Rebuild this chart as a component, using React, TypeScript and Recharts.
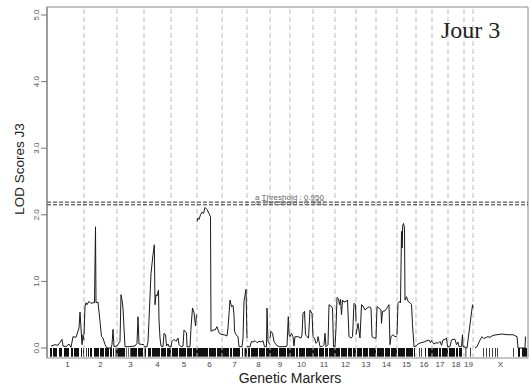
import { LineChart, Line, XAxis, YAxis, ReferenceLine, ReferenceArea } from 'recharts';

// positions are in map units along the genome (0 = left edge of the plot)
const chrNames = ['1', '2', '3', '4', '5', '6', '7', '8', '9', '10', '11', '12', '13', '14', '15', '16', '17', '18', '19', 'X'];
const chrStart = 4;
const chrLengths = [33, 33, 27, 27, 26, 25, 25, 23, 20, 23, 22, 21, 20, 21, 19, 16, 16, 16, 9, 55];

const chr1 = [[4, 0.03], [8, 0.05], [11, 0.04], [15, 0.13], [16, 0.03], [19, 0.02], [22, 0.06], [24, 0.01], [26, 0.17], [29, 0.16], [32, 0.3], [33, 0.54], [34, 0.3], [35, 0.05], [36, 0.2], [37, 0.12]];
const chr2 = [[37, 0.2], [38, 0.62], [39, 0.68], [40, 0.65], [42, 0.7], [44, 0.67], [46, 0.68], [47.5, 0.68], [48.5, 1.82], [49, 0.68], [51, 0.69], [53, 0.4], [54.5, 0.17], [56, 0.15], [58, 0.05], [60, 0.0], [64, 0.0], [65, 0.05], [66, 0.28], [67, 0.02], [70, 0.03]];
const chr3 = [[70, 0.03], [73, 0.1], [74, 0.8], [75, 0.72], [76, 0.6], [77, 0.3], [78, 0.02], [82, 0.02], [88, 0.03], [90, 0.07], [91, 0.47], [92, 0.06], [97, 0.05]];
const chr4 = [[97, 0.02], [100, 0.02], [101, 0.1], [102, 0.42], [104, 1.12], [106, 1.4], [107.3, 1.55], [108, 0.65], [109, 0.8], [110, 0.78], [111.5, 0.87], [112, 0.42], [113, 0.15], [114, 0.03], [116, 0.02], [117, 0.22], [118.5, 0.2], [119.5, 0.03], [121, 0.06], [122, 0.02], [124, 0.02]];
const chr5 = [[124, 0.02], [125, 0.1], [127, 0.13], [129, 0.1], [131, 0.15], [132, 0.05], [134, 0.02], [136, 0.03], [137, 0.27], [138, 0.25], [139.5, 0.23], [140, 0.02], [143, 0.02], [144, 0.3], [145.5, 0.6], [147, 0.53], [148.5, 0.33], [149.5, 0.5]];
const chr6 = [[150, 1.9], [151, 1.95], [152, 1.93], [153.5, 2.0], [155, 2.04], [156.5, 2.02], [158, 2.11], [160, 2.08], [162, 2.02], [163.5, 1.97], [164, 0.25], [166, 0.27], [168, 0.27], [170, 0.32], [171, 0.27], [172.5, 0.22], [175, 0.2]];
const chr7 = [[175, 0.2], [177, 0.2], [180, 0.18], [181, 0.3], [183, 0.72], [184.5, 0.62], [186, 0.64], [187, 0.5], [187.5, 0.25], [189, 0.2], [191, 0.17], [192, 0.02], [195, 0.02], [196, 0.15], [197, 0.7], [199, 0.88], [200, 0.15]];
const chr8 = [[200, 0.02], [203, 0.02], [204.5, 0.1], [206, 0.09], [208, 0.11], [210, 0.08], [212, 0.1], [214, 0.09], [216, 0.11], [217.5, 0.02], [219.5, 0.02], [220, 0.6], [221, 0.1], [223, 0.05]];
const chr9 = [[223, 0.15], [224, 0.25], [225.5, 0.22], [227, 0.1], [229, 0.05], [232, 0.02], [238, 0.02], [240, 0.03], [241.3, 0.47], [242, 0.2], [243, 0.17]];
const chr10 = [[243, 0.17], [244.5, 0.22], [246, 0.17], [247, 0.03], [248, 0.17], [251, 0.17], [254, 0.15], [255, 0.2], [256, 0.52], [257.5, 0.55], [258.5, 0.2], [260, 0.17], [261.5, 0.15], [263, 0.57], [265, 0.52], [266, 0.17]];
const chr11 = [[266, 0.17], [267.5, 0.15], [269, 0.07], [270.5, 0.1], [271, 0.17], [272, 0.1], [273, 0.02], [275, 0.02], [277, 0.05], [278, 0.22], [279, 0.02], [281, 0.05], [282, 0.65], [284, 0.63], [285.5, 0.6], [286.5, 0.02], [288, 0.02]];
const chr12 = [[288, 0.02], [289, 0.3], [290, 0.76], [291.5, 0.74], [292.5, 0.65], [293.5, 0.73], [294.5, 0.5], [295.5, 0.72], [297, 0.69], [299, 0.7], [300.5, 0.72], [302, 0.17], [304, 0.15], [305.5, 0.17], [307, 0.67], [308.5, 0.65], [309, 0.4]];
const chr13 = [[309, 0.2], [311, 0.37], [313, 0.15], [314.5, 0.65], [316, 0.63], [318, 0.57], [320, 0.6], [322, 0.62], [324, 0.6], [325, 0.17], [327, 0.15], [329, 0.15]];
const chr14 = [[329, 0.15], [330, 0.62], [332, 0.6], [334, 0.57], [334.5, 0.37], [335.5, 0.55], [338, 0.56], [340, 0.6], [342, 0.65], [343, 0.05], [344, 0.17], [346, 0.2], [348, 0.17], [350, 0.18]];
const chr15 = [[350, 0.2], [351, 0.67], [352.5, 0.7], [353.5, 0.68], [354.5, 1.75], [355.2, 1.5], [355.7, 1.84], [356.5, 1.87], [357.5, 1.8], [358, 0.72], [359.5, 0.77], [361, 0.7], [363, 0.68], [364.5, 0.65], [365.5, 0.35], [367, 0.02], [369, 0.03]];
const chr16 = [[369, 0.03], [371, 0.06], [374, 0.08], [377, 0.09], [380, 0.11], [382, 0.12], [383.5, 0.08], [385, 0.12]];
const chr17 = [[385, 0.1], [387, 0.06], [389, 0.08], [391, 0.07], [393, 0.1], [394.5, 0.04], [396, 0.12], [398, 0.13], [399.5, 0.15], [400.5, 0.02], [401, 0.02]];
const chr18 = [[401, 0.02], [403, 0.02], [404.5, 0.12], [406, 0.13], [408, 0.13], [409.5, 0.05], [411, 0.09], [412, 0.02], [414.5, 0.02], [415.5, 0.2], [416, 0.02], [417, 0.02]];
const chr19 = [[417, 0.02], [420, 0.0], [425.5, 0.65], [426, 0.6]];
const chrX = [[428, 0.0], [430, 0.02], [433, 0.12], [435, 0.17], [437, 0.14], [439, 0.16], [441, 0.17], [443, 0.16], [446, 0.19], [450, 0.2], [455, 0.21], [460, 0.2], [466, 0.2], [470, 0.17], [471, 0.0], [478, 0.0], [478.5, 0.17]];

// marker rug: [from, to] runs of genotyped markers
const markerRuns = [
  [3, 5], [6, 10], [12, 15], [17, 22], [24, 26], [27, 32], [34, 35], [36, 37],
  [39, 39.8], [41, 42], [43, 45], [47, 52], [53, 57], [58, 62], [63, 65], [66, 67], [68.5, 70],
  [70, 78], [79, 79.7], [81, 81.7], [83, 83.7], [84, 90], [91, 96],
  [97.5, 99], [101, 104], [105, 113], [114, 119], [120, 124],
  [125, 131], [132, 139], [140, 145], [146, 150],
  [150, 161], [162, 169], [170, 175],
  [175, 182], [183, 185], [186, 193], [195, 196], [197.5, 200],
  [201, 203], [204, 211], [212, 218], [219, 223],
  [223, 231], [232, 239], [240, 243],
  [243, 248], [249, 251], [252, 258], [259, 266],
  [266, 271], [272, 277], [278, 281], [282, 288],
  [288, 293], [294, 300], [301, 305], [306, 309],
  [310, 315], [316, 321], [322, 329],
  [330, 337], [338, 343], [344, 350],
  [351, 358], [359, 366], [367, 368],
  [372, 372.8], [374, 374.8], [378, 379], [381, 385],
  [385, 391], [392, 394], [395, 401],
  [402, 408], [409, 411], [412, 415],
  [418.5, 419.3], [423, 423.8],
  [436, 436.8], [439, 439.8], [442, 442.8], [445, 445.8], [448, 448.8], [450, 450.8],
  [466, 466.8], [471, 473], [475, 480],
];

const thresholds = [
  { lod: 2.19, label: 'a Threshold : 0.950' },
  { lod: 2.15, label: 'a Threshold : 0.900' },
];

const profiles = [chr1, chr2, chr3, chr4, chr5, chr6, chr7, chr8, chr9, chr10, chr11, chr12, chr13, chr14, chr15, chr16, chr17, chr18, chr19, chrX];

// one series, broken between chromosomes
const data = profiles.flatMap((c) => [
  ...c.map(([pos, lod]) => ({ pos, lod })),
  { pos: c[c.length - 1][0], lod: null as number | null },
]);

const chrEnds: number[] = [];
chrLengths.reduce((acc, len) => {
  chrEnds.push(acc + len);
  return acc + len;
}, chrStart);
const chrMids = chrEnds.map((end, i) => end - chrLengths[i] / 2);
const boundaries = chrEnds.slice(0, -1);

const X_MAX = 481;
const Y_MIN = -0.15;
const Y_MAX = 5.12;

function YTick({ x, y, payload }: any) {
  return (
    <text x={x} y={y} transform={`rotate(-90 ${x} ${y})`} textAnchor="middle" fontSize={8} fill="#555">
      {Number(payload.value).toFixed(1)}
    </text>
  );
}

function XTick({ x, y, payload }: any) {
  const i = chrMids.indexOf(payload.value);
  return (
    <text x={x} y={y + 7} textAnchor="middle" fontSize={8} fill="#444">
      {chrNames[i]}
    </text>
  );
}

function ThresholdLabel(text: string, dy: number) {
  return (props: any) => {
    const vb = props.viewBox;
    return (
      <text x={vb.x + vb.width / 2 + 2} y={vb.y + dy} textAnchor="middle" fontSize={8} fill="#666">
        {text}
      </text>
    );
  };
}

export default function App() {
  return (
    <div style={{ position: 'absolute', left: 0, top: 0, fontFamily: '"Liberation Sans", Arial, sans-serif' }}>
      <LineChart width={531} height={392} data={data} margin={{ top: 7, right: 3, bottom: 0, left: 0 }}>
        <XAxis
          type="number"
          dataKey="pos"
          domain={[0, X_MAX]}
          allowDataOverflow
          ticks={chrMids}
          interval={0}
          tick={<XTick />}
          tickLine={false}
          axisLine={false}
          tickSize={0}
          height={34}
          label={() => (
            <text x={290} y={383} textAnchor="middle" fontSize={14} fill="#222">
              Genetic Markers
            </text>
          )}
        />
        <YAxis
          type="number"
          domain={[Y_MIN, Y_MAX]}
          allowDataOverflow
          ticks={[0, 1, 2, 3, 4, 5]}
          interval={0}
          width={47}
          tick={<YTick />}
          tickSize={6}
          tickMargin={2}
          tickLine={{ stroke: '#777' }}
          axisLine={{ stroke: '#777' }}
          label={() => (
            <text x={24} y={169} transform="rotate(-90 24 169)" textAnchor="middle" fontSize={13.5} fill="#222">
              LOD Scores J3
            </text>
          )}
        />
        {markerRuns.map(([a, b], i) => (
          <ReferenceArea key={`m${i}`} x1={a} x2={b} y1={-0.13} y2={0} fill="#111" fillOpacity={1} stroke="none" />
        ))}
        {boundaries.map((b) => (
          <ReferenceLine key={`b${b}`} x={b} stroke="#bbb" strokeDasharray="5 3" />
        ))}
        {thresholds.map((t, i) => (
          <ReferenceLine
            key={t.label}
            y={t.lod}
            stroke="#333"
            strokeDasharray="4 2"
            label={ThresholdLabel(t.label, i === 0 ? -2 : 0)}
          />
        ))}
        <ReferenceArea x1={0} x2={X_MAX} y1={Y_MIN} y2={Y_MAX} fill="none" stroke="#888" />
        <Line
          dataKey="lod"
          type="linear"
          stroke="#1a1a1a"
          strokeWidth={1}
          dot={false}
          connectNulls={false}
          isAnimationActive={false}
        />
      </LineChart>
      <div
        style={{
          position: 'absolute',
          left: 441,
          top: 18,
          fontFamily: '"Liberation Serif", "Times New Roman", serif',
          fontSize: 24,
          lineHeight: '24px',
          color: '#222',
          whiteSpace: 'nowrap',
        }}
      >
        Jour 3
      </div>
    </div>
  );
}
